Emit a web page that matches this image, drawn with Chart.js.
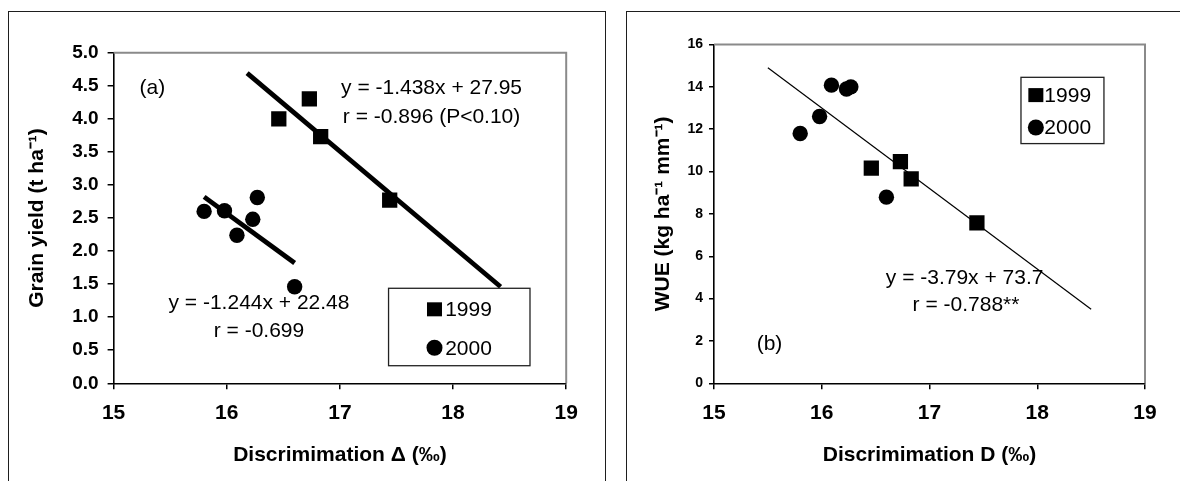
<!DOCTYPE html>
<html>
<head>
<meta charset="utf-8">
<script src="https://cdn.jsdelivr.net/npm/chart.js@4.4.1/dist/chart.umd.min.js"></script>
<style>
  html, body { margin: 0; padding: 0; background: #fff; overflow: hidden; }
  body { width: 1180px; height: 481px; position: relative; }
  .frame { position: absolute; top: 11px; height: 540px; border: 1.6px solid #1e1e1e; border-bottom: none; }
  #frameA { left: 8px; width: 596px; }
  #frameB { left: 626px; width: 620px; }
  .panel { position: absolute; top: 0; height: 481px; }
  #panelA { left: 0; width: 600px; }
  #panelB { left: 600px; width: 580px; }
</style>
</head>
<body>
<div class="frame" id="frameA"></div>
<div class="frame" id="frameB"></div>
<div class="panel" id="panelA"><canvas id="chartA"></canvas></div>
<div class="panel" id="panelB"><canvas id="chartB"></canvas></div>
<script>
// data
const seriesNames = ['1999', '2000']
const disc1999 = [16.46, 16.73, 16.83, 17.44]
const disc2000 = [15.80, 15.98, 16.09, 16.23, 16.27, 16.60]
const yield1999 = [4.00, 4.30, 3.73, 2.77]
const yield2000 = [2.60, 2.61, 2.24, 2.48, 2.81, 1.46]
const wue1999 = [10.16, 10.47, 9.65, 7.58]
const wue2000 = [11.8, 12.6, 14.08, 13.9, 14.0, 8.79]

// regression lines (end points as drawn)
const fitYield1999X = [16.18, 18.42]
const fitYield1999Y = [4.69, 1.46]
const fitYield2000X = [15.80, 16.60]
const fitYield2000Y = [2.82, 1.82]
const fitWueX = [15.5, 18.5]
const fitWueY = [14.9, 3.5]

const xTicks = [15, 16, 17, 18, 19]

const FONT = '"Liberation Sans", Arial, Helvetica, sans-serif'
Chart.defaults.font.family = FONT
Chart.defaults.color = '#000'

const pts = (xs, ys) => xs.map((x, i) => ({ x, y: ys[i] }))

// text notes, legend box and grey frame of the plot area
const annotate = {
  id: 'annotate',
  beforeDatasetsDraw(chart) {
    const { ctx, chartArea: a } = chart
    ctx.save()
    ctx.strokeStyle = '#8a8a8a'
    ctx.lineWidth = 2
    ctx.beginPath()
    ctx.moveTo(a.left, a.top)
    ctx.lineTo(a.right, a.top)
    ctx.lineTo(a.right, a.bottom)
    ctx.stroke()
    ctx.restore()
  },
  afterDatasetsDraw(chart, args, opts) {
    const { ctx } = chart
    const sx = chart.scales.x, sy = chart.scales.y
    const px = v => sx.getPixelForValue(v)
    const py = v => sy.getPixelForValue(v)
    ctx.save()
    ctx.fillStyle = '#000'
    ctx.textBaseline = 'middle'
    ;(opts.notes || []).forEach(n => {
      ctx.font = '21px ' + FONT
      ctx.textAlign = 'center'
      ctx.fillText(n.text, px(n.x), py(n.y))
    })
    const lg = opts.legend
    if (lg) {
      const x0 = px(lg.x0), x1 = px(lg.x1), y0 = py(lg.y0), y1 = py(lg.y1)
      ctx.fillStyle = '#fff'
      ctx.fillRect(x0, y0, x1 - x0, y1 - y0)
      ctx.strokeStyle = '#222'
      ctx.lineWidth = 1.3
      ctx.strokeRect(x0, y0, x1 - x0, y1 - y0)
      ctx.font = '21px ' + FONT
      ctx.textAlign = 'left'
      chart.data.datasets.slice(0, 2).forEach((ds, i) => {
        const cx = px(lg.markX), cy = py(lg.rows[i])
        ctx.fillStyle = '#000'
        if (ds.pointStyle === 'rect') {
          ctx.fillRect(cx - 7.5, cy - 7, 15, 14)
        } else {
          ctx.beginPath()
          ctx.arc(cx, cy, 8, 0, Math.PI * 2)
          ctx.fill()
        }
        ctx.fillText(ds.label, px(lg.textX), cy + 1)
      })
    }
    ctx.restore()
  }
}

const axisLine = { color: '#000', width: 1.6 }
const tickMarks = { drawOnChartArea: false, drawTicks: true, tickLength: 6, color: '#000', lineWidth: 1.5 }

function markerSets(ys1999, ys2000) {
  return [
    { label: seriesNames[0], data: pts(disc1999, ys1999), pointStyle: 'rect', pointRadius: 10.8,
      backgroundColor: '#000', borderColor: '#000', borderWidth: 0, pointHoverRadius: 10.8 },
    { label: seriesNames[1], data: pts(disc2000, ys2000), pointStyle: 'circle', pointRadius: 7.7,
      backgroundColor: '#000', borderColor: '#000', borderWidth: 0, pointHoverRadius: 7.7 }
  ]
}

function fitLine(xs, ys, w) {
  return { label: 'fit', data: pts(xs, ys), showLine: true, borderColor: '#000', borderWidth: w,
    pointRadius: 0, pointHoverRadius: 0, fill: false }
}

function xScale(title) {
  return {
    type: 'linear', min: 15, max: 19,
    afterBuildTicks: s => { s.ticks = xTicks.map(v => ({ value: v })) },
    ticks: { font: { size: 21, weight: 'bold' }, padding: 11 },
    grid: tickMarks, border: axisLine,
    title: { display: true, text: title, font: { size: 21, weight: 'bold' }, padding: { top: 0, bottom: 13 } },
    afterFit: s => { s.height = 97.7 }
  }
}

// (a) grain yield
new Chart(document.getElementById('chartA'), {
  type: 'scatter',
  data: {
    datasets: [
      ...markerSets(yield1999, yield2000),
      fitLine(fitYield1999X, fitYield1999Y, 4.8),
      fitLine(fitYield2000X, fitYield2000Y, 4.8)
    ]
  },
  options: {
    responsive: true, maintainAspectRatio: false, animation: false,
    layout: { padding: { left: 0, right: 33.8, top: 52.7, bottom: 0 } },
    plugins: {
      legend: { display: false }, tooltip: { enabled: false },
      annotate: {
        notes: [
          { text: '(a)', x: 15.343, y: 4.47 },
          { text: 'y = -1.438x + 27.95', x: 17.81, y: 4.46 },
          { text: 'r = -0.896 (P<0.10)', x: 17.81, y: 4.03 },
          { text: 'y = -1.244x + 22.48', x: 16.285, y: 1.21 },
          { text: 'r = -0.699', x: 16.285, y: 0.79 }
        ],
        legend: { x0: 17.43, x1: 18.68, y0: 1.437, y1: 0.266, markX: 17.836, textX: 17.93, rows: [1.119, 0.538] }
      }
    },
    scales: {
      x: xScale('Discrimimation Δ (‰)'),
      y: {
        type: 'linear', min: 0, max: 5,
        ticks: { stepSize: 0.5, font: { size: 19, weight: 'bold' }, padding: 9, callback: v => v.toFixed(1) },
        grid: tickMarks, border: axisLine,
        title: { display: true, text: 'Grain yield (t ha⁻¹)', font: { size: 21, weight: 'bold' }, padding: { top: 25, bottom: 0 } },
        afterFit: s => { s.width = 113.6 }
      }
    }
  },
  plugins: [annotate]
})

// (b) water use efficiency
new Chart(document.getElementById('chartB'), {
  type: 'scatter',
  data: {
    datasets: [
      ...markerSets(wue1999, wue2000),
      fitLine(fitWueX, fitWueY, 1.2)
    ]
  },
  options: {
    responsive: true, maintainAspectRatio: false, animation: false,
    layout: { padding: { left: 0, right: 35, top: 44.5, bottom: 0 } },
    plugins: {
      legend: { display: false }, tooltip: { enabled: false },
      annotate: {
        notes: [
          { text: 'y = -3.79x + 73.7', x: 17.326, y: 4.94 },
          { text: 'r = -0.788**', x: 17.339, y: 3.68 },
          { text: '(b)', x: 15.515, y: 1.86 }
        ],
        legend: { x0: 17.849, x1: 18.619, y0: 14.45, y1: 11.32, markX: 17.987, textX: 18.066, rows: [13.61, 12.08] }
      }
    },
    scales: {
      x: xScale('Discrimimation D (‰)'),
      y: {
        type: 'linear', min: 0, max: 16,
        ticks: { stepSize: 2, font: { size: 14, weight: 'bold' }, padding: 6 },
        grid: Object.assign({}, tickMarks, { tickLength: 5 }), border: axisLine,
        title: { display: true, text: 'WUE (kg ha⁻¹ mm⁻¹)', font: { size: 21, weight: 'bold' }, padding: { top: 51, bottom: 0 } },
        afterFit: s => { s.width = 114 }
      }
    }
  },
  plugins: [annotate]
})
</script>
</body>
</html>
